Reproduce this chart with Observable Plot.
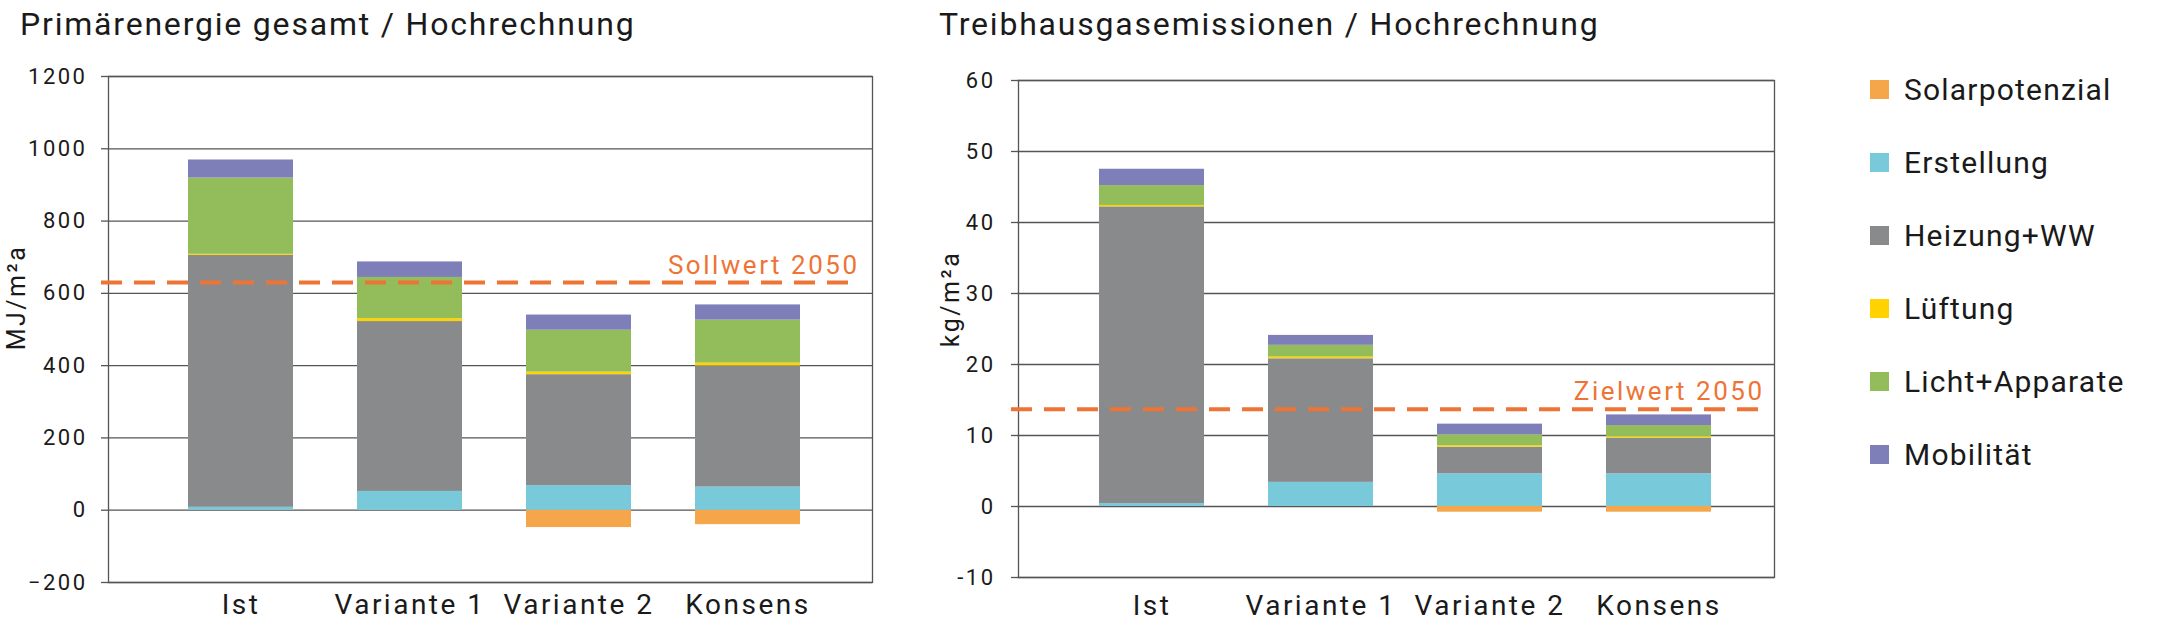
<!DOCTYPE html>
<html>
<head>
<meta charset="utf-8">
<script src="https://cdn.jsdelivr.net/npm/d3@7"></script>
<script src="https://cdn.jsdelivr.net/npm/@observablehq/plot@0.6"></script>
<style>
  body { margin: 0; background: #fff; }
  #wrap { position: relative; width: 2161px; height: 630px; overflow: hidden; font-family: Roboto, sans-serif; color: #1a1a1a; }
  .title { position: absolute; font-size: 32px; line-height: 32px; letter-spacing: 1.8px; white-space: nowrap; }
  .chart { position: absolute; top: 0; }
  #legend { position: absolute; left: 1870px; top: 80px; }
  .item { display: flex; align-items: center; height: 19px; margin-bottom: 54px; }
  .sw { width: 19px; height: 19px; margin-right: 15px; flex: none; }
  .lab { font-size: 30px; line-height: 19px; letter-spacing: 1.2px; white-space: nowrap; }
</style>
</head>
<body>
<div id="wrap">
  <div class="title" id="t1" style="left:20px; top:8px;"></div>
  <div class="title" id="t2" style="left:939px; top:8px;"></div>
  <div class="chart" id="c1" style="left:0px;"></div>
  <div class="chart" id="c2" style="left:900px;"></div>
  <div id="legend"></div>
</div>
<script>
// ---- data ----
const categories = ["Ist", "Variante 1", "Variante 2", "Konsens"];
const series = ["Solarpotenzial", "Erstellung", "Heizung+WW", "Lüftung", "Licht+Apparate", "Mobilität"];
const seriesColors = ["#F5A54A", "#78CADB", "#888A8C", "#FFD200", "#93BD5A", "#7E7FB8"];

// Primärenergie (MJ/m²a)
const primSolar      = [0, 0, -48, -40];
const primErstellung = [8, 52, 68, 64];
const primHeizung    = [697, 470, 307, 335];
const primLueftung   = [3, 8, 7, 8];
const primLicht      = [211, 114, 116, 119];
const primMobil      = [50, 43, 42, 42];
const primTicks = [-200, 0, 200, 400, 600, 800, 1000, 1200];
const primSollwert = 630;

// Treibhausgasemissionen (kg/m²a)
const ghgSolar      = [0, 0, -0.8, -0.8];
const ghgErstellung = [0.4, 3.4, 4.6, 4.6];
const ghgHeizung    = [41.8, 17.4, 3.75, 5.0];
const ghgLueftung   = [0.2, 0.25, 0.2, 0.2];
const ghgLicht      = [2.8, 1.65, 1.55, 1.6];
const ghgMobil      = [2.3, 1.4, 1.5, 1.5];
const ghgTicks = [-10, 0, 10, 20, 30, 40, 50, 60];
const ghgZielwert = 13.7;

const titles = ["Primärenergie gesamt / Hochrechnung", "Treibhausgasemissionen / Hochrechnung"];
const units = ["MJ/m²a", "kg/m²a"];
const refLabels = ["Sollwert 2050", "Zielwert 2050"];

// ---- build ----
const refColor = "#EE7436";
const lineColor = "#555";

function rowsFrom(arrs) {
  const rows = [];
  categories.forEach((c, i) => {
    series.forEach((s, j) => rows.push({cat: c, series: s, value: arrs[j][i]}));
  });
  return rows;
}

function chart(rows, ticks, tickFmt, refVal, refLabel, unit, L) {
  return Plot.plot({
    width: 900, height: 630,
    marginLeft: L.ml, marginRight: L.mr, marginTop: L.mt, marginBottom: L.mb,
    style: {fontFamily: "Roboto, sans-serif", color: "#1a1a1a", background: "transparent", letterSpacing: "2.5px"},
    x: {domain: categories, paddingInner: 0.38, paddingOuter: L.po, align: L.align, label: null},
    y: {domain: [ticks[0], ticks[ticks.length - 1]], label: null},
    color: {domain: series, range: seriesColors},
    marks: [
      Plot.gridY(ticks, {stroke: lineColor, strokeOpacity: 1, strokeWidth: 1.3}),
      Plot.frame({stroke: lineColor, strokeWidth: 1.3}),
      Plot.barY(rows, {x: "cat", y: "value", fill: "series", order: series}),
      Plot.ruleY([refVal], {stroke: refColor, strokeWidth: 4, strokeDasharray: "21,12", insetLeft: L.ril, insetRight: L.rir}),
      Plot.text([refVal], {y: d => d, text: () => refLabel, frameAnchor: "right", textAnchor: "end", lineAnchor: "bottom", dx: L.tdx, dy: -9, fill: refColor, fontSize: 26}),
      Plot.axisY(ticks, {tickSize: 7, tickPadding: L.tp, tickFormat: tickFmt, stroke: lineColor, strokeWidth: 1.3, fontSize: 22, label: null}),
      Plot.axisX({tickSize: 0, tickPadding: L.xp, fontSize: 28, label: null}),
      Plot.text([unit], {frameAnchor: "left", rotate: -90, dx: L.udx, dy: L.udy, fontSize: 25, textAnchor: "middle", lineAnchor: "middle", text: d => d})
    ]
  });
}

const rows1 = rowsFrom([primSolar, primErstellung, primHeizung, primLueftung, primLicht, primMobil]);
const rows2 = rowsFrom([ghgSolar, ghgErstellung, ghgHeizung, ghgLueftung, ghgLicht, ghgMobil]);

document.getElementById("c1").appendChild(chart(rows1, primTicks, d3.format("d"), primSollwert, refLabels[0], units[0],
  {ml: 108, mr: 28, mt: 76, mb: 48, po: 0.445, align: 0.524, ril: -7, rir: 17, tdx: -13, tp: 14, xp: 12, udx: -92, udy: -32}));
document.getElementById("c2").appendChild(chart(rows2, ghgTicks, d => String(d), ghgZielwert, refLabels[1], units[1],
  {ml: 118, mr: 26, mt: 80, mb: 53, po: 0.4227, align: 0.564, ril: -7, rir: 9, tdx: -10, tp: 16, xp: 18, udx: -68, udy: -30}));

document.getElementById("t1").textContent = titles[0];
document.getElementById("t2").textContent = titles[1];

const legend = document.getElementById("legend");
series.forEach((s, i) => {
  const item = document.createElement("div");
  item.className = "item";
  const sw = document.createElement("div");
  sw.className = "sw";
  sw.style.background = seriesColors[i];
  const lab = document.createElement("div");
  lab.className = "lab";
  lab.textContent = s;
  item.appendChild(sw); item.appendChild(lab);
  legend.appendChild(item);
});
</script>
</body>
</html>
